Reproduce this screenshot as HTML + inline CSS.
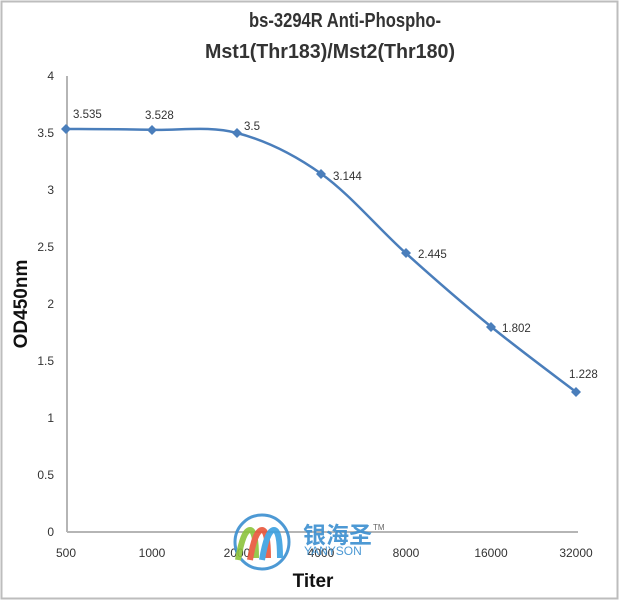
<!DOCTYPE html>
<html><head><style>body{margin:0;background:#fff}svg{display:block}</style></head><body>
<svg width="619" height="600" viewBox="0 0 619 600" xmlns="http://www.w3.org/2000/svg" font-family="Liberation Sans, sans-serif">
<rect x="1.5" y="1.5" width="616" height="597" fill="#fff" stroke="#bdbdbd" stroke-width="2"/>
<text x="249" y="27" font-size="20" font-weight="bold" fill="#333" textLength="192" lengthAdjust="spacingAndGlyphs">bs-3294R Anti-Phospho-</text>
<text x="205" y="58" font-size="20" font-weight="bold" fill="#333" textLength="250" lengthAdjust="spacingAndGlyphs">Mst1(Thr183)/Mst2(Thr180)</text>
<line x1="67" y1="76" x2="67" y2="532" stroke="#b5b5b5" stroke-width="2"/>
<line x1="67" y1="532" x2="578" y2="532" stroke="#b5b5b5" stroke-width="2"/>
<g font-size="12" fill="#333" text-anchor="end">
<text x="54" y="80">4</text><text x="54" y="137">3.5</text><text x="54" y="194">3</text><text x="54" y="251">2.5</text><text x="54" y="308">2</text><text x="54" y="365">1.5</text><text x="54" y="422">1</text><text x="54" y="479">0.5</text><text x="54" y="536">0</text>
</g>
<g font-size="12" fill="#333" text-anchor="middle">
<text x="66" y="557">500</text><text x="152" y="557">1000</text><text x="237" y="557">2000</text><text x="321" y="557">4000</text><text x="406" y="557">8000</text><text x="491" y="557">16000</text><text x="576" y="557">32000</text>
</g>
<text x="313" y="587" font-size="19" font-weight="bold" text-anchor="middle" fill="#111">Titer</text>
<text transform="translate(27,304) rotate(-90)" font-size="19" font-weight="bold" text-anchor="middle" fill="#111">OD450nm</text>
<path d="M66,129 C80.3,129.1 123.5,129.1 152,129.8 C180.5,130.5 208.8,125.7 237,133 C265.2,140.3 292.8,153.6 321,173.6 C349.2,193.6 377.7,227.8 406,253.3 C434.3,278.8 462.7,303.5 491,326.6 C519.3,349.7 561.8,381.1 576,392" fill="none" stroke="#4a7ebb" stroke-width="2.5"/>
<g fill="#4a7ebb">
<path d="M66,124 l5,5 -5,5 -5,-5z"/><path d="M152,125 l5,5 -5,5 -5,-5z"/><path d="M237,128 l5,5 -5,5 -5,-5z"/><path d="M321,169 l5,5 -5,5 -5,-5z"/><path d="M406,248 l5,5 -5,5 -5,-5z"/><path d="M491,322 l5,5 -5,5 -5,-5z"/><path d="M576,387 l5,5 -5,5 -5,-5z"/>
</g>
<g font-size="11.5" fill="#333">
<text x="73" y="118">3.535</text><text x="145" y="119">3.528</text><text x="244" y="130">3.5</text><text x="333" y="180">3.144</text><text x="418" y="258">2.445</text><text x="502" y="332">1.802</text><text x="569" y="378">1.228</text>
</g>
<g opacity="0.9">
<circle cx="262" cy="542" r="27" fill="none" stroke="#3a8fd0" stroke-width="3"/>
<path d="M238,560 q5,-30 12,-30 q6,0 6,28" fill="none" stroke="#8cc43c" stroke-width="6"/>
<path d="M250,560 q5,-30 12,-30 q6,0 6,28" fill="none" stroke="#e8563a" stroke-width="6"/>
<path d="M262,560 q5,-30 12,-30 q6,0 6,28" fill="none" stroke="#3aa0e0" stroke-width="6"/>
<text x="303" y="543" font-size="23" font-weight="bold" font-family="Noto Sans CJK SC, sans-serif" fill="#3a8fd0">银海圣</text>
<text x="373" y="530" font-size="8" fill="#555">TM</text>
<text x="304" y="555" font-size="12" fill="#3a8fd0">YANYSON</text>
</g>
</svg>
</body></html>
